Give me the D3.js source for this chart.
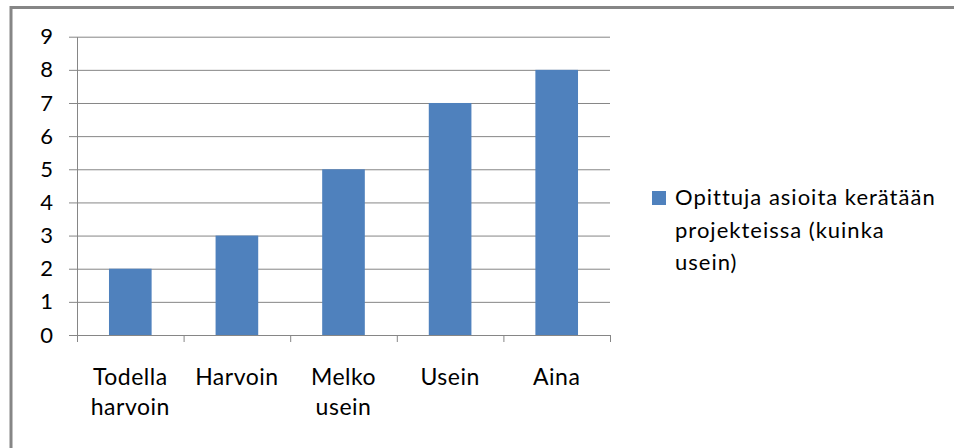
<!DOCTYPE html>
<html>
<head>
<meta charset="utf-8">
<script src="https://cdn.jsdelivr.net/npm/d3@7"></script>
<style>
  html, body { margin: 0; padding: 0; background: #fff; }
  svg { display: block; }
  text { font-family: Lato, "Open Sans", sans-serif; fill: #000; }
</style>
</head>
<body>
<svg id="chart" width="954" height="448"></svg>
<script>
// Category labels (each entry is a list of lines) and the single series
const categories = [["Todella", "harvoin"], ["Harvoin"], ["Melko", "usein"], ["Usein"], ["Aina"]];
const values = [2, 3, 5, 7, 8];
const yTicks = [0, 1, 2, 3, 4, 5, 6, 7, 8, 9];
const seriesName = ["Opittuja asioita kerätään", "projekteissa (kuinka", "usein)"];

const svg = d3.select("#chart");
const W = 954, H = 448;
const plot = { left: 77, right: 610, top: 36.7, bottom: 335 };
const barColor = "#4F81BD";
const gridColor = "#868686";

// Outer chart frame (top and left edges visible)
svg.append("rect").attr("x", 0).attr("y", 0).attr("width", W).attr("height", H).attr("fill", "#fff");
svg.append("line").attr("x1", 10).attr("x2", W).attr("y1", 7.5).attr("y2", 7.5)
  .attr("stroke", gridColor).attr("stroke-width", 3);
svg.append("line").attr("x1", 11).attr("x2", 11).attr("y1", 6).attr("y2", H)
  .attr("stroke", gridColor).attr("stroke-width", 3);

const keys = categories.map((c, i) => i);
const x = d3.scaleBand().domain(keys).range([plot.left, plot.right]).paddingInner(0.6).paddingOuter(0.3);
const y = d3.scaleLinear().domain([0, 9]).range([plot.bottom, plot.top]);

// Horizontal gridlines with value labels
const yAxis = svg.append("g").attr("transform", `translate(${plot.left},0)`)
  .call(d3.axisLeft(y).tickValues(yTicks).tickSize(8).tickSizeOuter(0).tickPadding(16)
    .tickFormat(d3.format("d")));
yAxis.select(".domain").attr("stroke", gridColor);
yAxis.selectAll(".tick line").attr("stroke", gridColor);
yAxis.selectAll(".tick").append("line")
  .attr("x1", 0).attr("x2", plot.right - plot.left)
  .attr("stroke", gridColor).attr("stroke-width", 1);
yAxis.selectAll(".tick text").attr("font-size", 22).attr("font-family", "Lato, sans-serif").attr("fill", "#000");

// Bars
svg.append("g").selectAll("rect").data(values).join("rect")
  .attr("x", (d, i) => x(i))
  .attr("width", x.bandwidth())
  .attr("y", d => y(d))
  .attr("height", d => y(0) - y(d))
  .attr("fill", barColor);

// Category axis: baseline and tick marks between categories
const xAxisScale = d3.scaleLinear().domain([0, categories.length]).range([plot.left, plot.right]);
const xAxis = svg.append("g").attr("transform", `translate(0,${plot.bottom})`)
  .call(d3.axisBottom(xAxisScale).tickValues(d3.range(0, categories.length + 1)).tickSize(7).tickSizeOuter(0).tickFormat(""));
xAxis.select(".domain").attr("stroke", gridColor);
xAxis.selectAll(".tick line").attr("stroke", gridColor);

// Category labels
const catLabels = svg.append("g").selectAll("text").data(categories).join("text")
  .attr("x", (d, i) => x(i) + x.bandwidth() / 2)
  .attr("y", 385)
  .attr("text-anchor", "middle")
  .attr("font-size", 23)
  .attr("letter-spacing", 0.5);
catLabels.selectAll("tspan").data(d => d).join("tspan")
  .attr("x", function() { return d3.select(this.parentNode).attr("x"); })
  .attr("dy", (d, i) => i === 0 ? 0 : 30)
  .text(d => d);

// Legend
const legend = svg.append("g");
legend.append("rect").attr("x", 652).attr("y", 191).attr("width", 14).attr("height", 14).attr("fill", barColor);
legend.append("text").attr("x", 675).attr("y", 205).attr("font-size", 22).attr("letter-spacing", 1)
  .selectAll("tspan").data(seriesName).join("tspan")
  .attr("x", 675).attr("dy", (d, i) => i === 0 ? 0 : 32.5)
  .text(d => d);
</script>
</body>
</html>
